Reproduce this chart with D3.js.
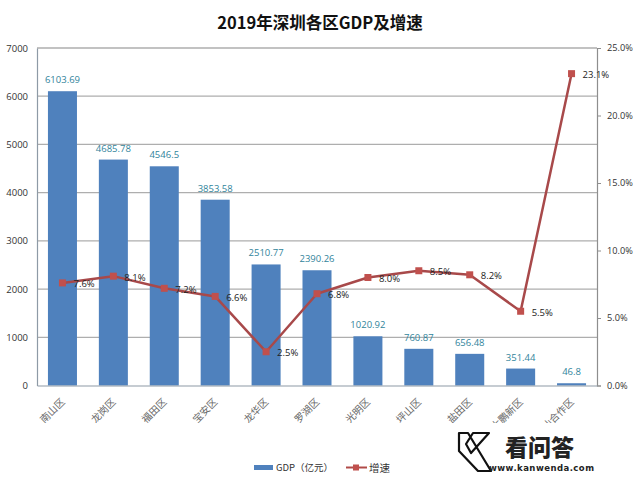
<!DOCTYPE html>
<html><head><meta charset="utf-8">
<script src="https://cdn.jsdelivr.net/npm/d3@7"></script>
<style>html,body{margin:0;padding:0;background:#fff}svg{display:block}text{font-family:"Open Sans","DejaVu Sans",sans-serif}</style>
</head><body><svg id="c" width="640" height="484"></svg>
<script>
const categories=["南山区","龙岗区","福田区","宝安区","龙华区","罗湖区","光明区","坪山区","盐田区","大鹏新区","深汕合作区"];
const gdpValues=[6103.69,4685.78,4546.5,3853.58,2510.77,2390.26,1020.92,760.87,656.48,351.44,46.8];
const gdpLabels=["6103.69","4685.78","4546.5","3853.58","2510.77","2390.26","1020.92","760.87","656.48","351.44","46.8"];
const growthValues=[7.6,8.1,7.2,6.6,2.5,6.8,8.0,8.5,8.2,5.5,23.1];
const leftTicks=[0,1000,2000,3000,4000,5000,6000,7000];
const rightTicks=[0,5,10,15,20,25];
const title="2019年深圳各区GDP及增速";
const legendBar="GDP（亿元）";
const legendLine="增速";
const watermarkName="看问答";
const watermarkUrl="www.kanwenda.com";

const svg=d3.select("#c");
const L=37,R=597,T=48,B=385.5;
const x=d3.scaleBand().domain(categories).range([L,R]).paddingInner(0.43).paddingOuter(0.215);
const y=d3.scaleLinear().domain([0,7000]).range([B,T]);
const y2=d3.scaleLinear().domain([0,25]).range([B,T]);
const cx=d=>x(d)+x.bandwidth()/2;
const cjk='"Noto Sans CJK SC","DejaVu Sans",sans-serif';

svg.append("text").attr("x",320).attr("y",29).attr("text-anchor","middle")
 .attr("font-size",16.5).attr("font-weight","bold").attr("fill","#111").style("font-family",cjk).text(title);

svg.append("g").selectAll("line").data(leftTicks.slice(1)).join("line")
 .attr("x1",L).attr("x2",R).attr("y1",d=>y(d)).attr("y2",d=>y(d)).attr("stroke","#aeaeae").attr("stroke-width",1.3);

const axL=svg.append("g").attr("transform",`translate(${L},0)`).call(d3.axisLeft(y).tickValues(leftTicks).tickSize(0).tickPadding(9).tickFormat(d=>d));
axL.select(".domain").attr("stroke","#8e9aa6").attr("stroke-width",1.2);
axL.selectAll("text").attr("font-size",9.5).attr("fill","#333");

svg.append("g").selectAll("rect").data(categories).join("rect")
 .attr("x",d=>x(d)).attr("width",x.bandwidth())
 .attr("y",(d,i)=>y(gdpValues[i])).attr("height",(d,i)=>B-y(gdpValues[i])).attr("fill","#4f81bd");

const axR=svg.append("g").attr("transform",`translate(${R},0)`).call(d3.axisRight(y2).tickValues(rightTicks).tickSize(4).tickPadding(6).tickFormat(d=>d.toFixed(1)+"%"));
axR.select(".domain").attr("stroke","#8e8e8e").attr("stroke-width",1.2);
axR.selectAll("line").attr("stroke","#8e8e8e");
axR.selectAll("text").attr("font-size",9.2).attr("fill","#333");

const axB=svg.append("g").attr("transform",`translate(0,${B})`).call(d3.axisBottom(x).tickSize(0).tickFormat(d=>d));
axB.select(".domain").attr("stroke","#8e9aa6").attr("stroke-width",1.2);
svg.append("clipPath").attr("id","lab").append("rect").attr("x",0).attr("y",B-2).attr("width",640).attr("height",425-B);
axB.selectAll(".tick text").style("font-family",cjk).attr("font-size",10).attr("fill","#666")
 .attr("text-anchor","end").attr("dy",0).attr("y",0)
 .attr("transform","translate(3,17) rotate(-45)");
const labelsLayer=svg.append("g").attr("clip-path","url(#lab)");
labelsLayer.node().appendChild(axB.node());

svg.append("g").selectAll("text").data(categories).join("text")
 .attr("x",d=>cx(d)).attr("y",(d,i)=>y(gdpValues[i])-8).attr("text-anchor","middle")
 .attr("font-size",9.5).attr("fill","#31849b").text((d,i)=>gdpLabels[i]);

const line=d3.line().x(d=>cx(d)).y((d,i)=>y2(growthValues[i]));
svg.append("path").datum(categories).attr("d",line).attr("fill","none").attr("stroke","#a8494a").attr("stroke-width",2.5).attr("stroke-linejoin","round");
svg.append("g").selectAll("rect").data(categories).join("rect")
 .attr("x",d=>cx(d)-3.5).attr("y",(d,i)=>y2(growthValues[i])-3.5).attr("width",7).attr("height",7).attr("fill","#c0504d");
svg.append("g").selectAll("text").data(categories).join("text")
 .attr("x",d=>cx(d)+11).attr("y",(d,i)=>y2(growthValues[i])+4.5).attr("font-size",9.5).attr("fill","#222")
 .text((d,i)=>growthValues[i].toFixed(1)+"%");

const lg=svg.append("g");
lg.append("rect").attr("x",254).attr("y",465).attr("width",19).attr("height",5).attr("fill","#4f81bd");
lg.append("text").attr("x",276).attr("y",471).attr("font-size",9.5).attr("fill","#333").style("font-family",cjk).text(legendBar);
lg.append("line").attr("x1",346).attr("x2",367).attr("y1",467.5).attr("y2",467.5).attr("stroke","#b04a48").attr("stroke-width",2);
lg.append("rect").attr("x",353).attr("y",464.5).attr("width",6).attr("height",6).attr("fill","#c0504d");
lg.append("text").attr("x",369).attr("y",472).attr("font-size",10.5).attr("fill","#333").style("font-family",cjk).text(legendLine);

// watermark
const wm=svg.append("g");
wm.append("path").attr("d","M459 433 L468 433 L491 471 L478 471 L459 451 Z M489 433 L473 433 L466 444 L471 453 Z")
 .attr("fill","#fff").attr("stroke","#111").attr("stroke-width",2.2).attr("stroke-linejoin","round");
wm.append("text").attr("x",505).attr("y",456).attr("font-size",23).attr("font-weight","900").attr("fill","#222").style("font-family",cjk).text(watermarkName);
wm.append("text").attr("x",489).attr("y",471).attr("font-size",8.5).attr("font-weight","bold").attr("fill","#222").style("font-family",'"DejaVu Sans",sans-serif').attr("textLength",105).text(watermarkUrl);
</script></body></html>
